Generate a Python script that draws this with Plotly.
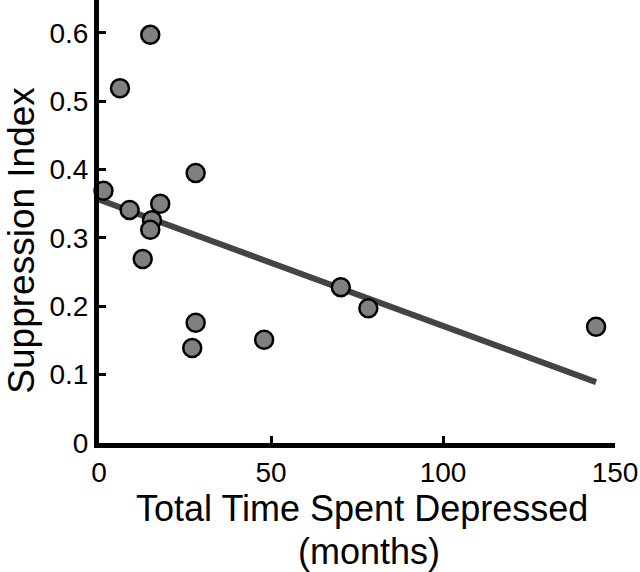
import plotly.graph_objects as go

months = [1.3, 6.1, 14.9, 8.9, 17.8, 15.4, 14.9, 12.7, 28.1, 28.1, 27.1, 48.0, 70.3, 78.3, 144.5]
suppression = [0.369, 0.519, 0.597, 0.341, 0.350, 0.326, 0.312, 0.269, 0.395, 0.176, 0.139, 0.151, 0.228, 0.197, 0.170]
fit_x = [0, 144.5]
fit_y = [0.356, 0.089]

x_ticks = [0, 50, 100, 150]
y_ticks = [0, 0.1, 0.2, 0.3, 0.4, 0.5, 0.6]
y_tick_labels = ["0", "0.1", "0.2", "0.3", "0.4", "0.5", "0.6"]

fig = go.Figure()
fig.add_trace(go.Scatter(x=fit_x, y=fit_y, mode="lines",
                         line=dict(color="#444444", width=6), showlegend=False))
fig.add_trace(go.Scatter(x=months, y=suppression, mode="markers",
                         marker=dict(size=18, color="#808080",
                                     line=dict(color="black", width=2.5)),
                         showlegend=False, cliponaxis=False))

font = "Liberation Sans, Arial, Helvetica, sans-serif"
fig.update_layout(
    width=640, height=572,
    margin=dict(l=99, r=25, t=0, b=129),
    paper_bgcolor="white", plot_bgcolor="white",
    font=dict(family=font, color="black"),
    xaxis=dict(range=[0, 150], tickvals=x_ticks, showgrid=False, zeroline=False,
               showline=True, linecolor="black", linewidth=5, automargin=False,
               ticks="inside", ticklen=7, tickwidth=3, tickcolor="black",
               tickfont=dict(size=28, family=font)),
    yaxis=dict(range=[0, 0.648], tickvals=y_ticks, ticktext=y_tick_labels,
               showgrid=False, zeroline=False, automargin=False,
               showline=True, linecolor="black", linewidth=5,
               ticks="inside", ticklen=7, tickwidth=3, tickcolor="black",
               tickfont=dict(size=28, family=font)),
    annotations=[
        dict(text="Total Time Spent Depressed", xref="paper", yref="paper",
             x=0.51, y=-0.148, xanchor="center", yanchor="middle", showarrow=False,
             font=dict(size=36, family=font, color="black")),
        dict(text="(months)", xref="paper", yref="paper",
             x=0.524, y=-0.245, xanchor="center", yanchor="middle", showarrow=False,
             font=dict(size=36, family=font, color="black")),
        dict(text="Suppression Index", xref="paper", yref="paper", textangle=-90,
             x=-0.151, y=0.457, xanchor="center", yanchor="middle", showarrow=False,
             font=dict(size=37, family=font, color="black")),
    ],
)
fig.write_html("out.html", config={"displayModeBar": False},
               post_script="document.body.style.margin='0px';")
